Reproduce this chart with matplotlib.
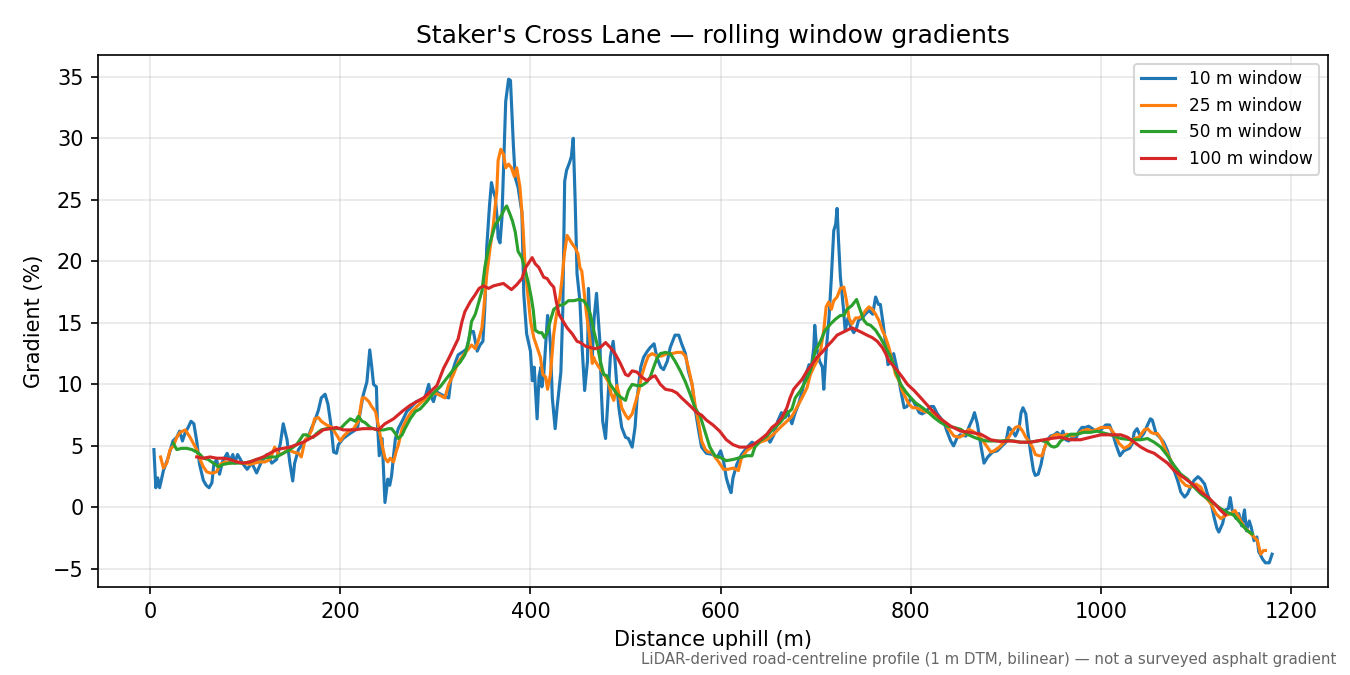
import matplotlib
matplotlib.use("Agg")
import matplotlib.pyplot as plt

# 10 m window
x10 = [4, 6, 8, 10, 14, 19, 24, 28, 31, 34, 37, 40, 43, 46, 49, 52, 56, 59, 62, 65,
       67, 70, 73, 76, 81, 84, 87, 89, 92, 95, 98, 102, 107, 112, 117, 123, 128, 133, 137, 140,
       144, 147, 150, 152, 156, 161, 166, 170, 173, 177, 180, 184, 187, 190, 193, 196, 198, 203, 210, 218,
       224, 228, 231, 233, 235, 238, 239, 241, 244, 245.5, 247, 250, 252, 254, 256, 258, 261, 265, 270, 280,
       289, 293, 295, 298, 301, 308, 314, 317, 321, 324, 330, 333, 337, 340, 344, 347, 350, 352, 354, 357,
       359, 361, 363, 365, 366, 368, 370, 372, 374, 377, 379, 380, 382, 384, 387, 391, 393, 396, 400, 402,
       404, 405, 407, 409, 411, 412, 414, 418, 419, 421, 423, 426, 428, 432, 434, 436, 438, 441, 443, 445,
       447, 449, 452, 454, 457, 460, 461, 463, 465, 467, 469.5, 473, 474.5, 476, 479, 481, 484, 487, 489, 491,
       493, 496, 500, 503, 507, 510, 512, 516, 519, 523, 526, 530, 533, 537, 540, 544, 547, 552, 556, 559,
       563, 566, 570, 573, 577, 580, 585, 592, 596, 600, 603, 606, 609, 611, 613, 617, 622, 628, 633, 638,
       643, 649, 652, 656, 660, 664, 668, 670, 675, 678, 682, 686, 689, 693, 695, 698, 699, 701, 704, 707,
       708.5, 711, 714, 716.5, 719, 721, 722.5, 724, 726, 729, 731, 734, 737, 740, 743, 745, 749, 752, 756, 760,
       763, 766, 768, 771, 774, 776, 779, 782, 786, 789, 793, 796, 800, 803, 809, 812, 816, 821, 824, 828,
       831, 835, 838, 842, 845, 849, 852, 858, 861, 865, 867, 870, 874, 877, 881, 886, 891, 896, 900, 903,
       907, 910, 914, 916, 918, 921, 923, 926, 929, 931, 934, 937, 940, 944, 947, 951, 954, 958, 960, 963,
       966, 970, 973, 977, 980, 984, 987, 991, 994, 1000, 1005, 1009, 1012, 1016, 1020, 1024, 1030, 1033, 1035, 1038,
       1042, 1045, 1049, 1052, 1054, 1058, 1063, 1066, 1070, 1073, 1077, 1081, 1084, 1088, 1091, 1095, 1098, 1102, 1105, 1109,
       1112, 1116, 1119, 1122, 1124, 1128, 1131, 1134, 1136, 1138, 1142, 1145, 1148, 1151, 1153, 1156, 1158, 1161, 1164, 1166,
       1170, 1173, 1177, 1180]
g10 = [4.7, 1.6, 2.4, 1.6, 3.0, 4.05, 5.4, 5.7, 6.2, 5.4, 6.1, 6.5, 7.0, 6.8, 5.4, 3.5, 2.2, 1.8, 1.6, 2.0,
       3.5, 3.9, 2.7, 3.7, 4.4, 3.75, 4.3, 3.6, 4.3, 3.9, 3.5, 3.1, 3.6, 2.8, 3.7, 4.3, 3.6, 3.9, 5.2, 6.8,
       5.5, 3.6, 2.15, 3.6, 4.7, 5.2, 5.7, 6.5, 7.0, 7.9, 8.9, 9.2, 8.4, 6.8, 4.5, 4.4, 5.1, 5.6, 6.0, 6.4,
       9.1, 10.2, 12.8, 11.5, 10.0, 9.8, 7.0, 4.2, 5.6, 2.9, 0.4, 2.3, 1.8, 2.6, 4.2, 5.6, 6.4, 7.0, 7.8, 8.6,
       8.9, 10.0, 9.1, 8.6, 9.4, 9.1, 8.9, 10.8, 11.8, 12.4, 12.7, 12.9, 14.3, 14.3, 12.7, 13.2, 13.5, 16.2, 21.1, 24.6,
       26.4, 25.7, 25.2, 23.5, 21.9, 21.5, 23.5, 28.2, 33.0, 34.8, 34.7, 33.0, 29.5, 26.8, 26.0, 24.0, 17.3, 14.1, 12.7, 10.3,
       11.4, 10.0, 7.2, 10.6, 11.4, 9.8, 10.8, 15.6, 15.2, 13.3, 8.9, 6.4, 8.1, 11.0, 16.0, 26.5, 27.4, 28.0, 28.5, 30.0,
       25.0, 19.0, 16.8, 13.5, 9.5, 11.9, 17.8, 14.4, 12.2, 15.4, 17.4, 13.5, 9.5, 7.0, 5.6, 8.1, 12.2, 13.5, 11.9, 9.8,
       8.1, 6.5, 5.7, 5.6, 4.9, 6.5, 8.7, 11.4, 12.2, 12.7, 13.0, 13.3, 12.2, 11.4, 11.2, 11.9, 13.0, 14.0, 14.0, 13.3,
       12.5, 11.1, 10.0, 8.1, 6.2, 4.9, 4.4, 4.3, 4.0, 4.6, 3.8, 2.4, 1.6, 1.2, 2.4, 3.5, 4.3, 4.9, 5.3, 5.1,
       5.5, 5.7, 5.3, 5.9, 7.0, 7.7, 7.3, 7.8, 6.8, 7.6, 8.4, 9.5, 10.6, 11.6, 11.1, 13.0, 14.8, 13.0, 11.9, 11.4,
       9.6, 12.7, 15.4, 18.7, 22.5, 23.0, 24.3, 21.7, 18.7, 16.3, 14.4, 15.4, 14.6, 14.2, 14.6, 15.2, 15.4, 15.7, 16.0, 15.7,
       17.1, 16.5, 16.5, 14.9, 13.0, 11.6, 11.9, 12.5, 11.1, 9.7, 8.1, 8.2, 8.9, 8.6, 7.7, 7.6, 7.8, 8.2, 8.2, 7.6,
       7.3, 6.9, 6.2, 5.4, 5.0, 5.7, 5.9, 5.8, 6.5, 7.2, 7.7, 6.8, 4.9, 3.6, 4.1, 4.5, 4.6, 5.0, 5.3, 6.5,
       6.2, 5.8, 6.5, 7.7, 8.1, 7.6, 6.2, 4.5, 3.0, 2.6, 2.7, 3.5, 4.7, 5.5, 5.8, 5.9, 6.1, 5.8, 6.2, 5.5,
       5.4, 5.7, 5.5, 6.2, 6.5, 6.5, 6.6, 6.4, 6.2, 6.3, 6.7, 6.7, 6.1, 5.05, 4.2, 4.6, 4.8, 5.2, 6.1, 6.4,
       5.7, 6.0, 6.7, 7.2, 7.1, 6.0, 5.6, 5.3, 4.6, 3.8, 3.0, 2.1, 1.25, 0.84, 1.1, 1.8, 2.2, 2.5, 2.3, 1.9,
       1.1, 0.3, -0.8, -1.7, -2.0, -1.3, -0.2, -0.1, 0.8, -0.2, -0.9, -0.5, -1.5, -0.2, -1.9, -1.1, -1.6, -2.7, -2.4, -3.6,
       -4.2, -4.5, -4.5, -3.8]

# 25 m window
x25 = [11, 14, 17.5, 21, 24.5, 28, 31.5, 37, 42, 45.5, 49, 52.5, 56, 59.5, 63, 66.5, 70, 73.5, 79, 84,
       91, 98, 105, 110, 115.6, 121, 126, 131, 135, 140, 145, 150.6, 156, 159, 163, 166, 170, 173, 177, 180,
       185.6, 191, 196, 200, 203.5, 209, 214, 219, 223, 226, 230, 233, 237, 240, 244, 247, 250, 252.5, 256, 259,
       261, 265, 270, 275, 280.5, 286, 291, 294.6, 300, 305, 310, 314, 319, 324, 329.6, 335, 338, 342, 345, 349,
       351, 354, 357.6, 361, 364.6, 366, 368.8, 371.6, 374, 377, 380, 383, 385.6, 389, 392, 394.4, 398, 400, 403.5, 407,
       410.5, 413, 416, 418, 421, 424.5, 428, 431, 433, 435.7, 438.5, 441, 444, 447, 450, 452, 454, 456.7, 459, 461,
       463, 465, 466.5, 468, 472, 475, 479, 482, 485, 487.6, 491, 494, 496, 500, 503, 507, 510, 514, 517, 521,
       524, 528, 533, 538, 543.6, 549, 554, 559, 563, 566, 570, 573, 577, 580, 584, 587, 591, 594, 598, 603,
       608, 613.4, 618.7, 622, 627.5, 634.5, 641.5, 648.6, 655.6, 662.7, 669.7, 675, 680, 685.6, 691, 694.4, 698, 701.4, 705, 708.5,
       711, 713.7, 716.5, 719, 722.5, 726, 729.6, 732.4, 735, 738, 742, 745.4, 749, 752.5, 756, 759.5, 763, 766.5, 770, 773.6,
       777, 780.6, 784, 787.7, 791, 794.7, 798, 801.8, 805, 809, 814, 821, 828, 835, 840, 845.5, 851, 856, 861, 865,
       870, 875, 880.6, 884, 887.6, 893, 898, 903, 907, 910, 914, 917.6, 921, 924, 928, 931, 935, 938, 941, 943.6,
       949, 954, 959, 964.6, 970, 975, 980, 985.6, 991, 996, 1000, 1003.5, 1009, 1014, 1019, 1024.5, 1030, 1035, 1040, 1045.5,
       1049, 1052.5, 1056, 1059.5, 1063, 1068, 1073.5, 1079, 1084, 1089, 1094.6, 1100, 1105, 1110, 1115.6, 1121, 1126, 1131, 1136.6, 1141,
       1145, 1150.6, 1156, 1161, 1164.6, 1168, 1171, 1173]
g25 = [4.1, 3.2, 3.6, 4.7, 5.0, 5.7, 6.1, 6.3, 5.7, 5.2, 4.7, 3.9, 3.3, 2.9, 2.8, 2.8, 2.9, 3.5, 3.7, 3.6,
       3.7, 3.6, 3.5, 3.6, 3.7, 3.7, 3.9, 4.9, 4.3, 4.4, 4.7, 4.5, 4.4, 4.1, 5.5, 5.7, 6.3, 7.2, 7.3, 7.0,
       6.7, 6.5, 5.9, 5.4, 5.8, 6.2, 6.4, 7.0, 8.9, 8.9, 8.6, 8.2, 7.8, 6.7, 5.05, 4.0, 3.7, 4.0, 3.7, 4.6,
       5.05, 6.4, 7.2, 7.8, 8.2, 8.6, 8.9, 9.1, 9.3, 9.1, 8.9, 10.0, 10.8, 11.8, 12.4, 12.9, 13.2, 12.9, 13.5, 14.6,
       16.2, 18.9, 21.1, 23.0, 25.7, 28.2, 29.1, 28.7, 27.6, 27.9, 27.6, 26.9, 27.6, 26.0, 23.0, 19.5, 16.7, 15.2, 13.8, 13.0,
       12.2, 10.8, 10.6, 9.6, 10.8, 14.1, 16.0, 17.1, 18.4, 20.6, 22.1, 21.8, 21.4, 21.1, 20.6, 19.5, 19.2, 17.3, 15.7, 14.6,
       13.3, 11.7, 12.2, 11.9, 11.4, 11.1, 10.6, 10.2, 9.2, 8.7, 9.9, 8.9, 8.1, 7.5, 7.2, 7.6, 8.4, 9.5, 10.7, 11.7,
       12.3, 12.5, 12.3, 12.3, 12.5, 12.5, 12.6, 12.6, 12.3, 11.4, 10.0, 8.4, 6.8, 5.4, 4.7, 4.5, 4.5, 4.1, 3.7, 3.1,
       3.1, 3.2, 3.0, 4.05, 4.6, 5.0, 5.3, 5.5, 5.95, 6.5, 7.0, 7.4, 8.1, 8.9, 9.75, 10.8, 11.4, 11.9, 12.7, 14.4,
       16.3, 16.7, 16.1, 16.8, 17.1, 17.8, 17.9, 16.8, 15.4, 14.9, 15.4, 15.4, 15.6, 16.0, 16.3, 16.1, 15.7, 15.2, 14.4, 13.8,
       13.0, 11.9, 10.8, 10.3, 9.5, 8.9, 8.4, 8.1, 8.1, 8.0, 7.8, 7.7, 7.3, 6.9, 6.35, 5.8, 5.7, 5.9, 6.35, 6.2,
       5.95, 5.5, 4.9, 4.5, 4.6, 4.9, 5.3, 5.7, 6.2, 6.5, 6.6, 6.2, 5.7, 5.4, 4.9, 4.3, 4.2, 4.2, 4.9, 5.4,
       5.8, 5.95, 5.8, 5.95, 5.8, 5.95, 6.2, 6.35, 6.2, 6.35, 6.5, 6.5, 6.5, 6.0, 5.2, 4.8, 5.05, 5.6, 5.7, 6.3,
       6.4, 6.1, 6.0, 6.0, 5.6, 4.65, 3.8, 3.0, 2.2, 1.8, 1.65, 1.9, 1.65, 0.84, 0.3, -0.5, -0.9, -0.65, -0.5, -0.25,
       -0.8, -1.6, -2.0, -2.4, -2.7, -3.8, -3.5, -3.5]

# 50 m window
x50 = [24.5, 28, 33, 38.5, 44, 49, 52.5, 56, 61, 66.5, 72, 77, 84, 91, 98, 105, 112, 119, 126, 133,
       140, 147, 154, 157.6, 161, 164.6, 168, 171.6, 175, 180, 185.6, 192.6, 200, 205, 210.5, 216, 219, 223, 226, 231.5,
       238.5, 245.5, 251, 254, 258, 261, 265, 268, 273.5, 279, 284, 291, 298, 305, 312, 319, 326, 331, 335, 338,
       342, 345, 349, 352, 356, 359, 363, 366, 370, 373, 375, 378.6, 381, 384, 387, 391, 394, 398, 401, 403,
       405, 409, 412, 414.7, 417.5, 421, 424.5, 430, 435, 440, 445.5, 451, 456, 459.5, 463, 466.5, 470, 473.5, 477, 480.5,
       484, 487.6, 491, 496, 500, 503, 507, 512, 517, 522.6, 526, 529.6, 533, 536.6, 542, 547, 552, 557.6, 563, 568,
       573, 578.6, 583.5, 588.7, 594, 600, 606, 613.4, 620.4, 627.5, 633, 636, 641.5, 648.6, 655.6, 662.7, 669.7, 675, 678.5, 684,
       689, 694.4, 699.6, 705, 710, 715.5, 720.8, 726, 729.6, 733, 738, 743, 746.5, 750.7, 754, 757.7, 763, 768, 773.6, 779,
       784, 789.4, 794.7, 800, 805, 810.6, 817.5, 824.5, 831.5, 838.5, 845.5, 852.5, 859.5, 866.5, 873.6, 880.6, 887.6, 894.6, 901.6, 908.6,
       915.6, 922.6, 929.6, 936.6, 943.6, 947, 950.6, 954, 957.6, 963, 968, 975, 982, 989, 996, 1000, 1010.5, 1021, 1031.5, 1042,
       1049, 1056, 1063, 1070, 1077, 1084, 1091, 1098, 1105, 1112, 1119, 1126, 1133, 1140, 1147, 1154, 1159]
g50 = [5.2, 4.7, 4.8, 4.8, 4.7, 4.5, 4.3, 4.0, 3.9, 3.6, 3.3, 3.5, 3.6, 3.6, 3.6, 3.7, 3.9, 4.0, 4.1, 4.1,
       4.4, 4.7, 5.1, 5.5, 5.9, 5.9, 5.7, 5.7, 6.0, 6.3, 6.4, 6.4, 6.4, 6.8, 7.2, 7.0, 7.4, 7.0, 6.9, 6.5,
       6.3, 6.3, 6.4, 6.4, 6.0, 5.6, 5.9, 6.4, 7.2, 7.8, 8.0, 8.6, 9.3, 9.8, 10.5, 11.2, 11.8, 12.4, 13.5, 15.1,
       15.7, 16.5, 17.6, 19.5, 21.1, 21.9, 23.0, 23.3, 23.8, 24.3, 24.5, 23.8, 23.3, 22.4, 20.8, 20.3, 19.4, 18.2, 17.0, 16.0,
       14.4, 14.2, 14.2, 13.8, 14.2, 15.2, 16.1, 16.4, 16.5, 16.8, 16.8, 16.9, 16.8, 16.4, 15.7, 14.4, 13.3, 11.9, 10.8, 10.7,
       10.0, 9.6, 9.2, 8.9, 8.7, 9.5, 10.0, 9.9, 9.9, 10.2, 10.6, 11.4, 12.1, 12.5, 12.6, 12.5, 11.9, 11.1, 10.2, 9.2,
       8.1, 7.4, 6.2, 4.9, 4.2, 4.05, 3.8, 3.9, 4.05, 4.2, 4.2, 4.9, 5.4, 5.8, 6.4, 6.9, 7.6, 8.0, 8.9, 9.5,
       10.2, 11.1, 12.7, 13.5, 14.4, 14.9, 15.3, 15.6, 15.6, 16.1, 16.4, 16.9, 16.1, 15.2, 14.9, 14.8, 14.4, 13.8, 13.0, 12.2,
       11.1, 10.0, 9.4, 8.9, 8.5, 8.2, 7.8, 7.3, 6.9, 6.6, 6.5, 6.35, 5.95, 5.7, 5.5, 5.4, 5.4, 5.4, 5.45, 5.4,
       5.3, 5.3, 5.35, 5.45, 5.3, 5.0, 4.9, 5.0, 5.4, 5.7, 5.95, 5.95, 6.1, 6.1, 6.2, 6.1, 5.9, 5.6, 5.5, 5.5,
       5.6, 5.3, 4.9, 4.2, 3.4, 2.7, 2.3, 1.65, 1.1, 0.7, 0.3, -0.1, -0.4, -0.65, -1.3, -1.9, -2.15]

# 100 m window
x100 = [49, 56, 63, 70, 77, 84, 91, 98, 105, 112, 119, 126, 133, 140, 147, 154, 161, 168, 175, 182,
        189, 196, 203, 214, 224, 235, 240, 247, 256, 265, 273.5, 280.5, 287.5, 294.6, 301.6, 308.6, 314, 319, 324, 328,
        331, 336.6, 342, 346, 350.6, 356, 361, 366, 371.6, 375, 380, 385.6, 391, 395, 401.8, 405, 408.8, 414, 417.5, 421,
        424.5, 427, 430, 433, 438.5, 444, 449, 452.5, 458, 463, 468, 473.5, 479, 484, 489, 494.6, 500, 503, 507, 512,
        517, 522.6, 528, 531, 536.6, 542, 549, 554, 559, 564.6, 570, 575, 580, 585, 592, 599, 606, 613, 620, 627.5,
        634.5, 641.5, 648.6, 654, 659, 664.4, 669.7, 673, 676.8, 680, 685.6, 691, 696, 701.4, 706.7, 712, 717, 722.5, 727.8, 733,
        738, 743.7, 749, 754, 759.5, 764.8, 770, 773.6, 777, 780.6, 786, 791, 796.5, 803.5, 810.6, 821, 831.5, 842, 852.5, 863,
        873.6, 884, 894.6, 905, 915.6, 926, 936.6, 947, 957.6, 968, 978.6, 989, 1000, 1010.5, 1021, 1028, 1035, 1042, 1049, 1056,
        1063, 1070, 1077, 1084, 1091, 1098, 1105, 1112.6, 1119.6, 1126, 1131]
g100 = [4.1, 4.0, 4.1, 4.0, 4.0, 3.9, 3.7, 3.6, 3.7, 3.9, 4.1, 4.4, 4.7, 4.8, 4.9, 5.1, 5.3, 5.6, 5.9, 6.3,
        6.4, 6.5, 6.3, 6.3, 6.4, 6.4, 6.3, 6.8, 7.2, 7.8, 8.3, 8.6, 8.9, 9.4, 9.9, 11.3, 12.1, 12.9, 13.7, 15.1,
        15.9, 16.7, 17.3, 17.8, 18.0, 17.8, 18.0, 18.1, 18.2, 18.0, 17.7, 18.1, 18.6, 19.5, 20.3, 19.8, 19.5, 18.7, 18.6, 18.2,
        17.9, 16.8, 15.7, 15.3, 14.6, 14.1, 13.5, 13.4, 13.1, 13.0, 12.9, 13.0, 13.4, 13.0, 12.5, 11.7, 10.8, 10.7, 11.1, 11.0,
        10.6, 10.3, 10.6, 10.7, 10.0, 9.6, 9.5, 9.3, 8.9, 8.5, 8.1, 7.7, 7.5, 7.1, 6.7, 6.2, 5.5, 5.1, 4.9, 4.9,
        5.1, 5.5, 5.95, 6.5, 6.8, 7.3, 8.1, 8.9, 9.6, 9.9, 10.4, 11.1, 11.6, 12.2, 12.6, 13.1, 13.5, 14.0, 14.2, 14.4,
        14.6, 14.4, 14.2, 14.0, 13.8, 13.5, 13.0, 12.5, 11.9, 11.6, 11.1, 10.6, 10.0, 9.5, 8.9, 8.0, 7.2, 6.6, 6.2, 6.1,
        5.95, 5.5, 5.35, 5.4, 5.3, 5.3, 5.45, 5.6, 5.7, 5.5, 5.5, 5.7, 5.9, 5.9, 5.9, 5.7, 5.3, 4.9, 4.6, 4.4,
        4.0, 3.6, 3.0, 2.6, 2.2, 1.8, 1.25, 0.84, 0.3, -0.25, -0.6]

series = [
    (x10, g10, "10 m window"),
    (x25, g25, "25 m window"),
    (x50, g50, "50 m window"),
    (x100, g100, "100 m window"),
]

fig, ax = plt.subplots(figsize=(9, 4.5), dpi=150)
fig.subplots_adjust(left=0.0726, right=0.9837, top=0.9185, bottom=0.1304)

for xs, ys, lab in series:
    ax.plot(xs, ys, lw=1.5, label=lab)

ax.set_title("Staker's Cross Lane \u2014 rolling window gradients")
ax.set_xlabel("Distance uphill (m)")
ax.set_ylabel("Gradient (%)")
ax.grid(True, alpha=0.3)
ax.legend(loc="upper right", fontsize=8.2)

fig.text(0.99, 0.012,
         "LiDAR-derived road-centreline profile (1 m DTM, bilinear) \u2014 not a surveyed asphalt gradient",
         ha="right", va="bottom", fontsize=7.2, color="#666666")

fig.savefig("out.png", dpi=150)
